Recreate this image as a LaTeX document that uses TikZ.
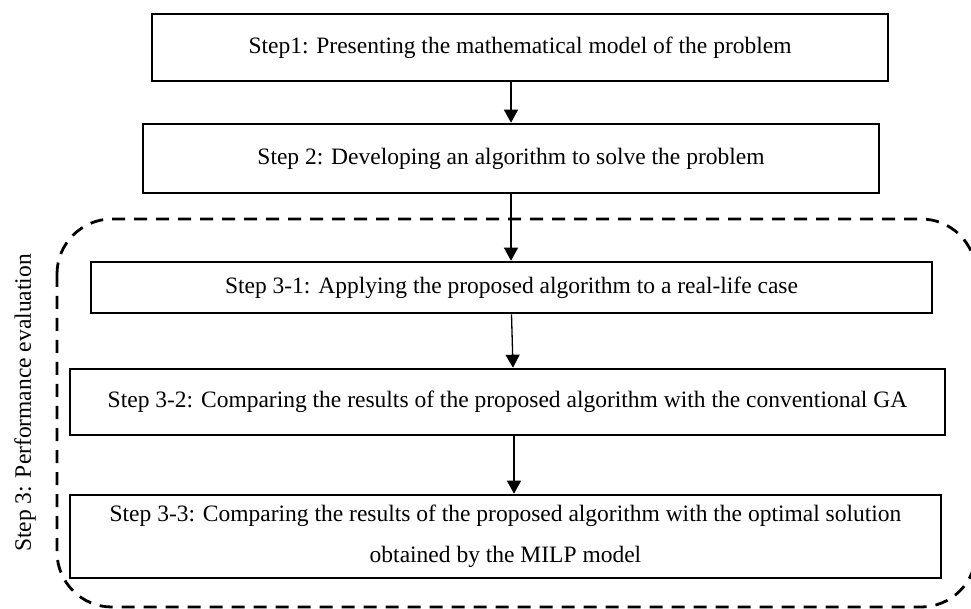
\documentclass[tikz,border=0pt]{standalone}
\usepackage{fontspec}
\setmainfont{Liberation Serif}
\usepackage{tikz}
\usetikzlibrary{arrows.meta,positioning,calc}

\begin{document}
\begin{tikzpicture}[x=1pt, y=1pt,
    stepbox/.style={draw, line width=2.6pt, inner sep=0pt, align=center, font=\fontsize{23.5}{41}\selectfont},
    arr/.style={line width=1.3pt, -{Triangle[length=13pt, width=14pt]}},
    groupline/.style={line width=2.8pt, dash pattern=on 13pt off 9pt, rounded corners=55pt}]
                    \useasboundingbox (0,0) rectangle (971,608);
                    \draw[groupline] (57,389) rectangle (976,1);
                    \node[rotate=90, font=\fontsize{23.5}{28}\selectfont] (perf) at (25,205) {Step 3: Performance evaluation};

                    \node[stepbox, minimum width=736pt, minimum height=67pt] (s1) at (520,560.5) {Step1: Presenting the mathematical model of the problem};
                    \node[stepbox, minimum width=736pt, minimum height=69pt] (s2) at (511,449.5) {Step 2: Developing an algorithm to solve the problem};
                    \node[stepbox, minimum width=841pt, minimum height=51pt] (s31) at (511.5,320.5) {Step 3-1: Applying the proposed algorithm to a real-life case};
                    \node[stepbox, minimum width=875pt, minimum height=66pt] (s32) at (507.5,206) {Step 3-2: Comparing the results of the proposed algorithm with the conventional GA};
                    \node[stepbox, minimum width=871pt, minimum height=83pt] (s33) at (505.5,71.5) {Step 3-3: Comparing the results of the proposed algorithm with the optimal solution\\ obtained by the MILP model};

                    \coordinate (c3) at ([xshift=1.5pt]s31.south |- s32.north);
                    \coordinate (c4) at ([xshift=6.5pt]s32.south);

                    \draw[arr] (s1.south -| s2.north) -- (s2.north);
                    \draw[arr] (s2.south) -- (s2.south |- s31.north);
                    \draw[arr] (s31.south) -- (c3);
                    \draw[arr] (c4) -- (c4 |- s33.north);
                \end{tikzpicture}
\end{document}
